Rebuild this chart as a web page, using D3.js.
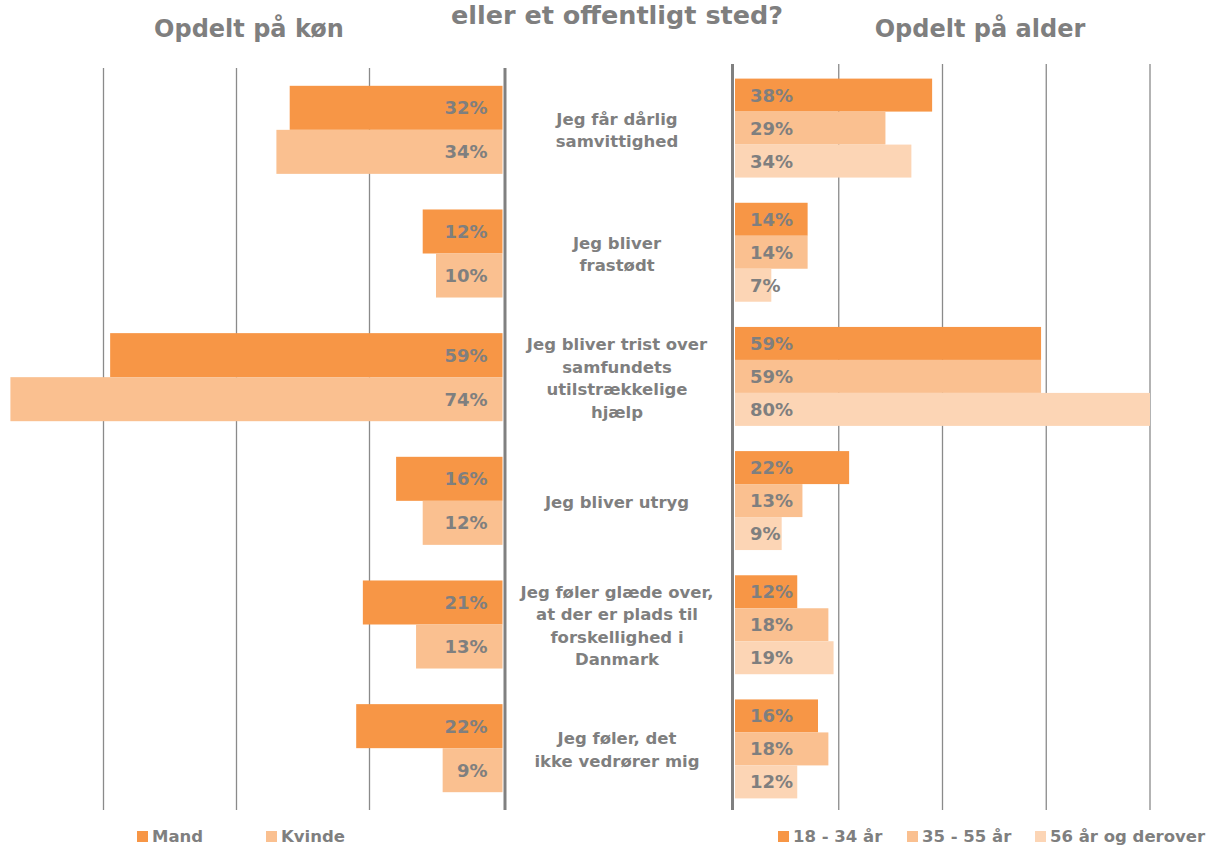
<!DOCTYPE html>
<meta charset="utf-8">
<script src="https://d3js.org/d3.v7.min.js"></script>
<style>
  body { margin: 0; background: #fff; }
  text { font-family: "DejaVu Sans", Verdana, sans-serif; font-weight: bold; fill: #7f7f7f; }
</style>
<div id="chart"></div>
<script>
// categories (line breaks as in the chart)
var categories = [
  "Jeg får dårlig\nsamvittighed",
  "Jeg bliver\nfrastødt",
  "Jeg bliver trist over\nsamfundets\nutilstrækkelige\nhjælp",
  "Jeg bliver utryg",
  "Jeg føler glæde over,\nat der er plads til\nforskellighed i\nDanmark",
  "Jeg føler, det\nikke vedrører mig"
];
// by gender
var mand   = [32, 12, 59, 16, 21, 22];
var kvinde = [34, 10, 74, 12, 13, 9];
// by age
var age1834 = [38, 14, 59, 22, 12, 16];
var age3555 = [29, 14, 59, 13, 18, 18];
var age56   = [34, 7, 80, 9, 19, 12];

var genderNames = ["Mand", "Kvinde"];
var ageNames = ["18 - 34 år", "35 - 55 år", "56 år og derover"];
var gridTicks = [20, 40, 60, 80];

var orange = "#F79646", mid = "#FAC090", light = "#FCD5B5";

var width = 1208, height = 845;
var svg = d3.select("#chart").append("svg")
  .attr("width", width).attr("height", height);

// titles
svg.append("text").attr("x", 617).attr("y", 24).attr("text-anchor", "middle")
  .style("font-size", "25.5px").text("eller et offentligt sted?");
svg.append("text").attr("x", 249).attr("y", 37).attr("text-anchor", "middle")
  .style("font-size", "24px").text("Opdelt på køn");
svg.append("text").attr("x", 980).attr("y", 37).attr("text-anchor", "middle")
  .style("font-size", "24px").text("Opdelt på alder");

// ---------- left chart (gender), bars grow to the left ----------
var xL = d3.scaleLinear().domain([0, 80]).range([502.5, 502.5 - 6.65 * 80]);
var yL = d3.scaleBand().domain(d3.range(categories.length)).range([68, 810])
  .paddingInner(0.288).paddingOuter(0.144);
var yL2 = d3.scaleBand().domain([0, 1]).range([0, yL.bandwidth()]);

var gL = svg.append("g");
gL.selectAll(".grid").data(gridTicks).enter().append("line")
  .attr("x1", d => xL(d)).attr("x2", d => xL(d))
  .attr("y1", 68).attr("y2", 810)
  .style("stroke", "#8a8a8a").style("stroke-width", 1.3);

var leftSeries = [mand, kvinde];
var leftColors = [orange, mid];
leftSeries.forEach(function(vals, s) {
  var grp = gL.append("g");
  grp.selectAll("rect").data(vals).enter().append("rect")
    .attr("x", d => xL(d)).attr("width", d => xL(0) - xL(d))
    .attr("y", (d, i) => yL(i) + yL2(s)).attr("height", yL2.bandwidth())
    .style("fill", leftColors[s]);
  grp.selectAll("text").data(vals).enter().append("text")
    .attr("x", xL(0) - 15).attr("y", (d, i) => yL(i) + yL2(s) + yL2.bandwidth() / 2)
    .attr("dy", "0.36em").attr("text-anchor", "end")
    .style("font-size", "18px").text(d => d + "%");
});
gL.append("line").attr("x1", xL(0) + 2.5).attr("x2", xL(0) + 2.5)
  .attr("y1", 68).attr("y2", 810)
  .style("stroke", "#808080").style("stroke-width", 3);

// ---------- right chart (age) ----------
var xR = d3.scaleLinear().domain([0, 80]).range([735, 1150]);
var yR = d3.scaleBand().domain(d3.range(categories.length)).range([66, 811])
  .paddingInner(0.203).paddingOuter(0.1015);
var yR2 = d3.scaleBand().domain([0, 1, 2]).range([0, yR.bandwidth()]);

var gR = svg.append("g");
gR.selectAll(".grid").data(gridTicks).enter().append("line")
  .attr("x1", d => xR(d)).attr("x2", d => xR(d))
  .attr("y1", 64).attr("y2", 810)
  .style("stroke", "#8a8a8a").style("stroke-width", 1.3);

var rightSeries = [age1834, age3555, age56];
var rightColors = [orange, mid, light];
rightSeries.forEach(function(vals, s) {
  var grp = gR.append("g");
  grp.selectAll("rect").data(vals).enter().append("rect")
    .attr("x", xR(0)).attr("width", d => xR(d) - xR(0))
    .attr("y", (d, i) => yR(i) + yR2(s)).attr("height", yR2.bandwidth())
    .style("fill", rightColors[s]);
  grp.selectAll("text").data(vals).enter().append("text")
    .attr("x", xR(0) + 15).attr("y", (d, i) => yR(i) + yR2(s) + yR2.bandwidth() / 2)
    .attr("dy", "0.36em")
    .style("font-size", "18px").text(d => d + "%");
});
gR.append("line").attr("x1", xR(0) - 2.5).attr("x2", xR(0) - 2.5)
  .attr("y1", 64).attr("y2", 810)
  .style("stroke", "#808080").style("stroke-width", 3);

// ---------- category labels in the middle ----------
var lineH = 22.5;
var catG = svg.append("g");
categories.forEach(function(c, i) {
  var lines = c.split("\n");
  var cy = (yL(i) + yL.bandwidth() / 2 + yR(i) + yR.bandwidth() / 2) / 2;
  var t = catG.append("text").attr("text-anchor", "middle").style("font-size", "16.5px");
  lines.forEach(function(l, k) {
    t.append("tspan").attr("x", 617)
      .attr("y", cy + (k - (lines.length - 1) / 2) * lineH + 7)
      .text(l);
  });
});

// ---------- legends ----------
var legL = svg.append("g");
var legLx = [137, 266];
genderNames.forEach(function(n, i) {
  legL.append("rect").attr("x", legLx[i]).attr("y", 831).attr("width", 11).attr("height", 11)
    .style("fill", leftColors[i]);
  legL.append("text").attr("x", legLx[i] + 15).attr("y", 842)
    .style("font-size", "16.5px").text(n);
});
var legR = svg.append("g");
var legRx = [778, 907, 1035];
ageNames.forEach(function(n, i) {
  legR.append("rect").attr("x", legRx[i]).attr("y", 831).attr("width", 11).attr("height", 11)
    .style("fill", rightColors[i]);
  legR.append("text").attr("x", legRx[i] + 15).attr("y", 842)
    .style("font-size", "16.5px").text(n);
});
</script>
